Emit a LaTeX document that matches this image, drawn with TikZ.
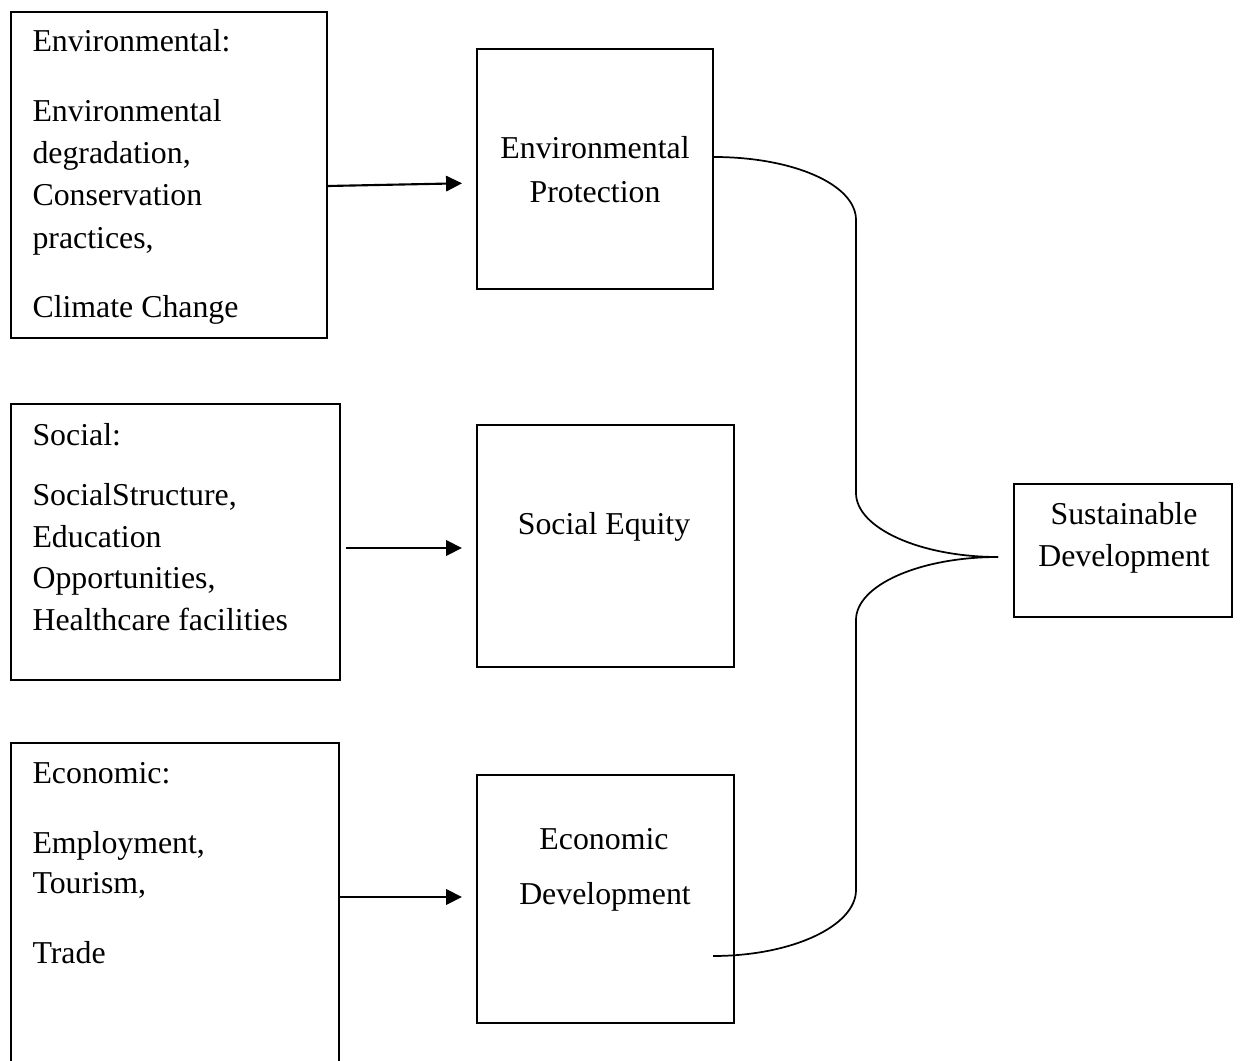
\documentclass[tikz,border=0pt]{standalone}
\usepackage{fontspec}
\setmainfont{Liberation Serif}
\usetikzlibrary{arrows.meta,fit}
\begin{document}
\begin{tikzpicture}[x=0.377pt,y=-0.377pt,
  box/.style={draw, line width=0.7pt, inner sep=0pt, rectangle},
  txt/.style={inner sep=0pt, font=\fontsize{12}{14}\selectfont},
  lft/.style={txt, anchor=base west},
  ctr/.style={txt, anchor=base},
  arr/.style={line width=0.8pt, -{Triangle[length=6pt,width=5.8pt]}},
  link/.style={line width=0.65pt}]
\useasboundingbox (0,0) rectangle (1241,1061);

% left boxes
\node[box, fit={(11,12)(327,338)}] (envIn) {};
\node[box, fit={(11,404)(340,680)}] (socIn) {};
\node[box, fit={(11,743)(339,1090)}] (ecoIn) {};

% middle boxes
\node[box, fit={(477,49)(713,289)}] (envProt) {};
\node[box, fit={(477,425)(734,667)}] (socEq) {};
\node[box, fit={(477,775)(734,1023)}] (ecoDev) {};

% right box
\node[box, fit={(1014,484)(1232,617)}] (sust) {};

% left texts
\node[lft] (t1) at (32,52) {Environmental:};
\node[lft] (t2) at (32,122) {Environmental};
\node[lft] (t3) at (32,164) {degradation,};
\node[lft] (t4) at (32,206) {Conservation};
\node[lft] (t5) at (32,248) {practices,};
\node[lft] (t6) at (32,318) {Climate Change};

\node[lft] (s1) at (32,445) {Social:};
\node[lft] (s2) at (32,505) {SocialStructure,};
\node[lft] (s3) at (32,547) {Education};
\node[lft] (s4) at (32,588) {Opportunities,};
\node[lft] (s5) at (32,630) {Healthcare facilities};

\node[lft] (e1) at (32,783) {Economic:};
\node[lft] (e2) at (32,853) {Employment,};
\node[lft] (e3) at (32,893) {Tourism,};
\node[lft] (e4) at (32,963) {Trade};

% middle texts
\node[ctr] (m1) at (595,159) {Environmental};
\node[ctr] (m2) at (595,203) {Protection};
\node[ctr] (m3) at (604,534) {Social Equity};
\node[ctr] (m4) at (604,849) {Economic};
\node[ctr] (m5) at (605,904) {Development};

% right texts
\node[ctr] (r1) at (1124,524) {Sustainable};
\node[ctr] (r2) at (1124,566) {Development};

% arrows
\draw[arr, shorten >=5.3pt] (envIn.east |- 0,186) -- (envProt.west |- 0,183);
\draw[arr, shorten <=1.9pt, shorten >=5.3pt] (socIn.east |- 0,548) -- (socEq.west |- 0,548);
\draw[arr, shorten >=5.3pt] (ecoIn.east |- 0,897) -- (ecoDev.west |- 0,897);

% brace
\coordinate (bStart) at (envProt.east |- 0,157);
\coordinate (bTip) at (998,557);
\coordinate (bEnd) at (713,956);
\draw[link] (bStart) .. controls (792,157) and (856,184) .. (856,220)
  -- (856,493) .. controls (856,528) and (920,557) .. (bTip);
\draw[link] (bTip) .. controls (920,557) and (856,585) .. (856,620)
  -- (856,890) .. controls (856,926) and (792,956) .. (bEnd);
\end{tikzpicture}
\end{document}
